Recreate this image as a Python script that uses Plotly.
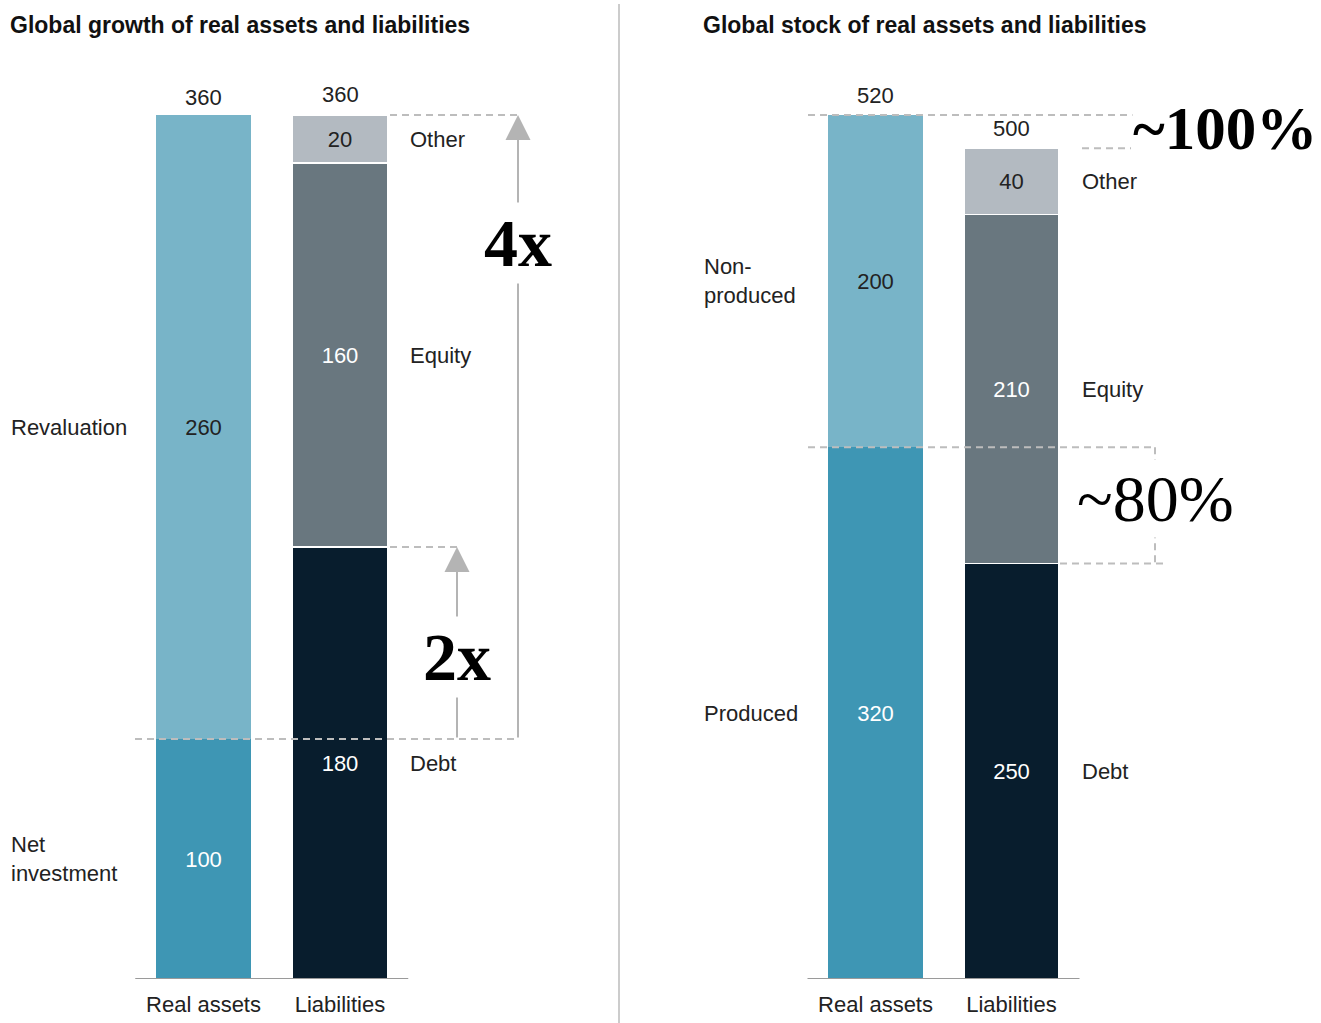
import plotly.graph_objects as go

W, H = 1321, 1023

# ---------------- data ----------------
categories = ["Real assets", "Liabilities"]

growth_asset_labels = ["Net<br>investment", "Revaluation"]
growth_asset_values = [100, 260]
growth_liab_labels = ["Debt", "Equity", "Other"]
growth_liab_values = [180, 160, 20]

stock_asset_labels = ["Produced", "Non-<br>produced"]
stock_asset_values = [320, 200]
stock_liab_labels = ["Debt", "Equity", "Other"]
stock_liab_values = [250, 210, 40]

titles = ["Global growth of real assets and liabilities",
          "Global stock of real assets and liabilities"]
callouts = ["4x", "2x", "~100%", "~80%"]

# ---------------- style ----------------
asset_colors = ["#3E96B4", "#78B4C8"]
asset_text = ["#FFFFFF", "#222222"]
liab_colors = ["#081D2D", "#69777F", "#B3BAC1"]
liab_text = ["#FFFFFF", "#FFFFFF", "#222222"]
SANS = "Liberation Sans"
SERIF = "Liberation Serif"
DASH = "#BDBDBD"
ARROW = "#B4B4B4"
BASE_PX, TOP_PX = 979, 115


def px(x):
    return x / W


def py(y):
    return 1 - y / H


fig = go.Figure()


def add_stack(xaxis, yaxis, cat, values, colors, tcolors, line_w):
    for v, c, tc in zip(values, colors, tcolors):
        fig.add_trace(go.Bar(
            x=[cat], y=[v], text=[str(v)], textposition="inside",
            insidetextanchor="middle", textangle=0,
            textfont=dict(family=SANS, size=22, color=tc),
            marker=dict(color=c, line=dict(color="white", width=line_w)),
            width=0.7, xaxis=xaxis, yaxis=yaxis, showlegend=False,
            hoverinfo="skip", cliponaxis=False))


add_stack("x", "y", categories[0], growth_asset_values, asset_colors, asset_text, 0)
add_stack("x", "y", categories[1], growth_liab_values, liab_colors, liab_text, 1.5)
add_stack("x2", "y2", categories[0], stock_asset_values, asset_colors, asset_text, 0)
add_stack("x2", "y2", categories[1], stock_liab_values, liab_colors, liab_text, 1.5)

left_max = sum(growth_asset_values)
right_max = sum(stock_asset_values)
ydom = [(H - BASE_PX) / H, 1]
left_R = left_max * BASE_PX / (BASE_PX - TOP_PX)
right_R = right_max * BASE_PX / (BASE_PX - TOP_PX)

# x axes: 0/1 category index; pixel scale ~136 px per unit
l_c0, l_step = 203.5, 136.5
r_c0, r_step = 875.5, 136.0
l_dom = [0, 609]
r_dom = [630, W]

xcommon = dict(type="category", categoryorder="array", categoryarray=categories,
               showgrid=False, zeroline=False, showline=False, ticks="",
               tickfont=dict(family=SANS, size=22, color="#222222"),
               ticklabelstandoff=10, fixedrange=True)
ycommon = dict(showgrid=False, zeroline=False, showline=False,
               showticklabels=False, ticks="", domain=ydom, fixedrange=True)

fig.update_layout(
    width=W, height=H, margin=dict(l=0, r=0, t=0, b=0),
    paper_bgcolor="white", plot_bgcolor="white", barmode="stack",
    xaxis=dict(domain=[px(l_dom[0]), px(l_dom[1])],
               range=[(l_dom[0] - l_c0) / l_step, (l_dom[1] - l_c0) / l_step],
               anchor="y", **xcommon),
    yaxis=dict(range=[0, left_R], anchor="x", **ycommon),
    xaxis2=dict(domain=[px(r_dom[0]), px(r_dom[1])],
                range=[(r_dom[0] - r_c0) / r_step, (r_dom[1] - r_c0) / r_step],
                anchor="y2", **xcommon),
    yaxis2=dict(range=[0, right_R], anchor="x2", **ycommon),
)

shapes = []
annotations = []


def dline(xref, yref, x0, x1, y0, y1, color=DASH, dash="7px,5px", width=2):
    shapes.append(dict(type="line", xref=xref, yref=yref, x0=x0, x1=x1,
                       y0=y0, y1=y1, layer="above",
                       line=dict(color=color, width=width, dash=dash)))


# base lines
dline("x", "y", -0.5, 1.5, 0, 0, color="#9A9A9A", dash="solid")
dline("x2", "y2", -0.5, 1.5, 0, 0, color="#9A9A9A", dash="solid")
# divider
shapes.append(dict(type="line", xref="paper", yref="paper", x0=px(619), x1=px(619),
                   y0=py(4), y1=py(H), line=dict(color="#CCCCCC", width=2)))

# ---- left panel guides ----
g_net = growth_asset_values[0]
g_total = sum(growth_liab_values)
g_debt = growth_liab_values[0]
dline("paper", "y", px(135), px(518), g_net, g_net)
dline("paper", "y", px(390), px(518), g_total, g_total)
dline("paper", "y", px(390), px(457), g_debt, g_debt)

# ---- right panel guides ----
s_assets = sum(stock_asset_values)
s_liab = sum(stock_liab_values)
s_prod = stock_asset_values[0]
s_debt = stock_liab_values[0]
dline("paper", "y2", px(808), px(1133), s_assets, s_assets)
dline("paper", "y2", px(1082), px(1131), s_liab, s_liab)
dline("paper", "y2", px(808), px(1155), s_prod, s_prod)
dline("paper", "y2", px(1155), px(1155), s_prod, s_debt)
dline("paper", "y2", px(1060), px(1165), s_debt, s_debt)

# arrows
for xpix, ytop in [(518, g_total), (457, g_debt)]:
    annotations.append(dict(xref="paper", yref="y", x=px(xpix), y=ytop, text="",
                            showarrow=True, axref="pixel", ayref="y", ax=0, ay=g_net,
                            arrowhead=2, arrowsize=2.5, arrowwidth=2,
                            arrowcolor=ARROW, standoff=0))


def callout(xpix, ypix, text, size, pad=2):
    annotations.append(dict(xref="paper", yref="paper", x=px(xpix), y=py(ypix), text=text,
                            xanchor="center", yanchor="middle",
                            showarrow=False, bgcolor="white", borderpad=pad,
                            font=dict(family=SERIF, size=size, color="#000000")))


callout(518, 243, "<b>4x</b>", 68)
callout(457, 657, "<b>2x</b>", 68)
callout(1225, 128, "<b>~100%</b>", 61, pad=0)
callout(1155, 498, "~80%", 66)

# titles
for t, xpix in zip(titles, [8, 701]):
    annotations.append(dict(xref="paper", yref="paper", x=px(xpix), y=py(25), text=f"<b>{t}</b>",
                            xanchor="left", yanchor="middle", showarrow=False,
                            font=dict(family=SANS, size=23, color="#111111")))

# totals above bars
for xr, yr, vals, shifts in [("x", "y", [growth_asset_values, growth_liab_values], [18, 21]),
                             ("x2", "y2", [stock_asset_values, stock_liab_values], [20, 20])]:
    for cat, v, s in zip(categories, vals, shifts):
        annotations.append(dict(xref=xr, yref=yr, x=cat, y=sum(v), text=str(sum(v)),
                                showarrow=False, xanchor="center", yanchor="middle", yshift=s,
                                font=dict(family=SANS, size=22, color="#222222")))


def side_labels(yref, labels, values, xpix):
    cum = 0
    for lab, v in zip(labels, values):
        annotations.append(dict(xref="paper", yref=yref, x=px(xpix), y=cum + v / 2,
                                text=lab, showarrow=False, xanchor="left", align="left",
                                yanchor="middle",
                                font=dict(family=SANS, size=22, color="#222222")))
        cum += v


side_labels("y", growth_asset_labels, growth_asset_values, 9)
side_labels("y", growth_liab_labels, growth_liab_values, 408)
side_labels("y2", stock_asset_labels, stock_asset_values, 702)
side_labels("y2", stock_liab_labels, stock_liab_values, 1080)

fig.update_layout(shapes=shapes, annotations=annotations)
fig.write_html("out.html")
